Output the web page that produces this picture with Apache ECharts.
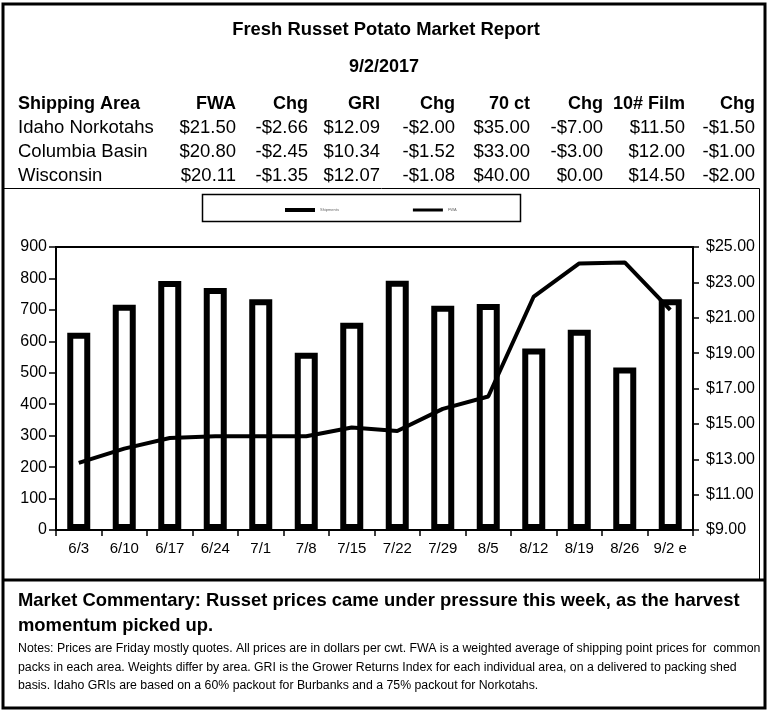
<!DOCTYPE html>
<html>
<head>
<meta charset="utf-8">
<script src="https://cdn.jsdelivr.net/npm/echarts@6/dist/echarts.min.js"></script>
<style>
html,body{margin:0;padding:0;background:#fff;}
#chart{width:770px;height:712px;}
</style>
</head>
<body>
<div id="chart"></div>
<script>
// ---- data ----
var categories = ['6/3','6/10','6/17','6/24','7/1','7/8','7/15','7/22','7/29','8/5','8/12','8/19','8/26','9/2 e'];
var shipments = [627, 716, 792, 770, 734, 564, 659, 793, 713, 719, 577, 637, 517, 734];
var fwaPrice = [12.8, 13.6, 14.2, 14.3, 14.3, 14.3, 14.8, 14.6, 15.85, 16.55, 22.2, 24.07, 24.13, 21.45];
var leftTicks = [0,100,200,300,400,500,600,700,800,900];
var rightTicks = [9,11,13,15,17,19,21,23,25];
var seriesNames = ['Shipments', 'FWA'];

var tableHeader = ['Shipping Area','FWA','Chg','GRI','Chg','70 ct','Chg','10# Film','Chg'];
var rowIdaho = ['Idaho Norkotahs','$21.50','-$2.66','$12.09','-$2.00','$35.00','-$7.00','$11.50','-$1.50'];
var rowColumbia = ['Columbia Basin','$20.80','-$2.45','$10.34','-$1.52','$33.00','-$3.00','$12.00','-$1.00'];
var rowWisconsin = ['Wisconsin','$20.11','-$1.35','$12.07','-$1.08','$40.00','$0.00','$14.50','-$2.00'];

var titleText = 'Fresh Russet Potato Market Report';
var dateText = '9/2/2017';
var commentary1 = 'Market Commentary: Russet prices came under pressure this week, as the harvest';
var commentary2 = 'momentum picked up.';
var notes = [
  'Notes: Prices are Friday mostly quotes. All prices are in dollars per cwt. FWA is a weighted average of shipping point prices for  common',
  'packs in each area. Weights differ by area. GRI is the Grower Returns Index for each individual area, on a delivered to packing shed',
  'basis. Idaho GRIs are based on a 60% packout for Burbanks and a 75% packout for Norkotahs.'
];

// ---- layout ----
var FONT = '"Liberation Sans", Arial, sans-serif';
var colRight = [null, 236, 308, 380, 455, 530, 603, 685, 755];
var rowY = [104, 128, 152, 176];
var rows = [tableHeader, rowIdaho, rowColumbia, rowWisconsin];

var graphics = [
  {type:'rect', shape:{x:3, y:4, width:762, height:704}, style:{fill:'none', stroke:'#000', lineWidth:3}, silent:true},
  {type:'rect', shape:{x:3.5, y:188.5, width:756, height:391}, style:{fill:'none', stroke:'#000', lineWidth:1}, silent:true},
  {type:'line', shape:{x1:3, y1:580, x2:765, y2:580}, style:{stroke:'#000', lineWidth:3}, silent:true},
  {type:'rect', shape:{x:202.5, y:194.5, width:318, height:27}, style:{fill:'#fff', stroke:'#000', lineWidth:1.5}, silent:true, z:-1},
  {type:'text', x:386, y:30, style:{text:titleText, font:'bold 18.4px ' + FONT, fill:'#000', textAlign:'center', textVerticalAlign:'middle'}},
  {type:'text', x:384, y:67, style:{text:dateText, font:'bold 18px ' + FONT, fill:'#000', textAlign:'center', textVerticalAlign:'middle'}},
  {type:'text', x:18, y:601, style:{text:commentary1, font:'bold 18.4px ' + FONT, fill:'#000', textAlign:'left', textVerticalAlign:'middle'}},
  {type:'text', x:18, y:626, style:{text:commentary2, font:'bold 18.4px ' + FONT, fill:'#000', textAlign:'left', textVerticalAlign:'middle'}}
];
notes.forEach(function(line, i){
  graphics.push({type:'text', x:18, y:649 + i*18.5, style:{text:line, font:'12.3px ' + FONT, fill:'#000', textAlign:'left', textVerticalAlign:'middle'}});
});
rows.forEach(function(row, r){
  row.forEach(function(cell, c){
    var bold = r === 0;
    graphics.push({type:'text', x: c === 0 ? 18 : colRight[c], y: rowY[r],
      style:{text:cell, font:(bold ? 'bold 18px ' : '18.5px ') + FONT, fill:'#000',
        textAlign: c === 0 ? 'left' : 'right', textVerticalAlign:'middle'}});
  });
});

var chart = echarts.init(document.getElementById('chart'));
chart.setOption({
  animation:false,
  backgroundColor:'#fff',
  textStyle:{fontFamily:FONT},
  legend:{
    left:280, top:203, itemWidth:30, itemHeight:4, itemGap:74,
    textStyle:{fontSize:4, color:'#666'},
    data:[
      {name:seriesNames[0], icon:'path://M0 0H30V4H0Z', itemStyle:{color:'#000', borderWidth:0}},
      {name:seriesNames[1], icon:'path://M0 0H30V3H0Z', itemStyle:{color:'#000'}}
    ]
  },
  grid:{left:56, right:77, top:247, bottom:182, show:true, borderColor:'#000', borderWidth:2, backgroundColor:'transparent'},
  xAxis:{
    type:'category', data:categories, boundaryGap:true,
    axisLine:{lineStyle:{color:'#000', width:2}},
    axisTick:{show:true, length:6, lineStyle:{color:'#000', width:1.5}},
    axisLabel:{color:'#000', fontSize:15, margin:11, interval:0}
  },
  yAxis:[
    {type:'value', min:0, max:900, interval:100, position:'left',
      axisLine:{show:true, lineStyle:{color:'#000', width:2}},
      axisTick:{show:true, length:7, lineStyle:{color:'#000', width:1.5}},
      axisLabel:{color:'#000', fontSize:16, margin:9, customValues:leftTicks},
      splitLine:{show:false}},
    {type:'value', min:9, max:25, position:'right',
      axisLine:{show:true, lineStyle:{color:'#000', width:2}},
      axisTick:{show:true, length:6, customValues:rightTicks, lineStyle:{color:'#000', width:1.5}},
      axisLabel:{color:'#000', fontSize:16, margin:13, customValues:rightTicks,
        formatter:function(v){return '$' + v.toFixed(2);}},
      splitLine:{show:false}}
  ],
  series:[
    {name:seriesNames[0], type:'bar', data:shipments, yAxisIndex:0, barWidth:23,
      itemStyle:{color:'#fff', borderColor:'#000', borderWidth:6}, z:2},
    {name:seriesNames[1], type:'line', data:fwaPrice, yAxisIndex:1, symbol:'none',
      lineStyle:{color:'#000', width:4}, itemStyle:{color:'#000'}, z:3}
  ],
  graphic:graphics
});
</script>
</body>
</html>
